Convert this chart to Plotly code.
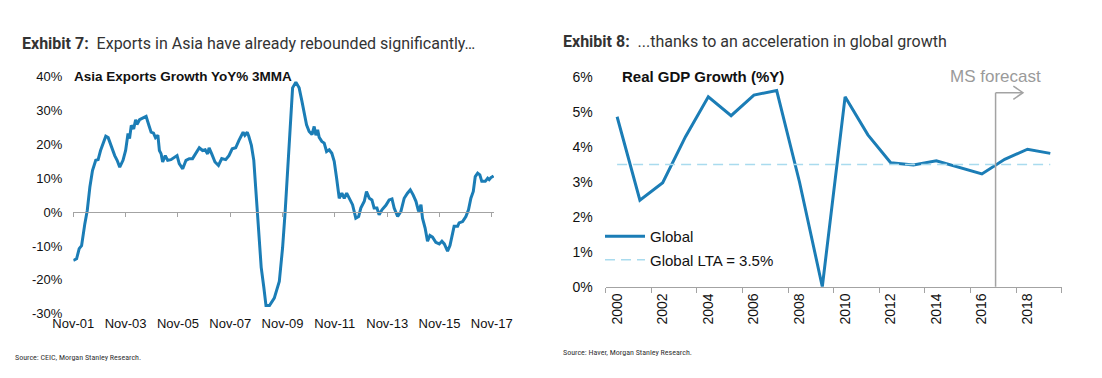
import pandas as pd
import plotly.graph_objects as go

# page body margin offsets the figure by 8px; compensate
OX, OY = 8, 8
W, H = 1102 - OX, 378 - OY

# ---------------- Exhibit 7: Asia exports growth (YoY %, 3MMA) ----------------
asia_start = "2001-11-01"
# months elapsed since Nov-01
asia_months = [
    0, 1.5, 2.7, 3.8, 5.3, 6.4, 7.6, 8.8, 10.3, 11.4, 12.5, 13.7, 14.9, 16.0, 17.5,
    19.0, 20.1, 21.3, 22.8, 24.0, 25.1, 25.8, 26.6, 27.7, 28.6, 29.2, 30.4, 31.9,
    33.4, 34.7, 35.7, 36.8, 37.7, 38.8, 39.5, 40.3, 41.0, 42.2, 43.3, 44.8, 46.4,
    47.6, 48.6, 50.2, 51.7, 53.2, 54.7, 56.2, 57.8, 59.3, 60.5, 61.6, 62.3, 63.5,
    65.0, 66.6, 68.1, 69.9, 71.4, 72.9, 74.5, 76.0, 77.9, 78.7, 79.8, 80.5, 81.7,
    82.8, 83.6, 84.3, 85.1, 86.2, 87.4, 88.4, 90.0, 92.2, 94.5, 96.0, 97.2, 98.3,
    99.4, 100.6, 102.1, 103.6, 104.9, 105.9, 107.0, 108.2, 109.5, 110.5, 111.3,
    112.1, 112.8, 114.0, 115.1, 116.2, 117.4, 118.6, 119.7, 120.8, 122.0, 123.2,
    124.3, 125.4, 126.6, 128.1, 129.6, 130.9, 131.9, 133.5, 134.5, 135.8, 137.0,
    138.0, 139.3, 140.3, 141.6, 143.4, 144.9, 146.2, 147.2, 148.8, 150.3, 151.8,
    153.3, 154.6, 155.9, 157.2, 158.4, 159.5, 160.2, 161.4, 162.5, 163.6, 164.8,
    166.3, 167.9, 169.1, 170.2, 171.7, 172.8, 174.0, 174.7, 176.3, 177.0, 178.6,
    180.1, 181.3, 182.4, 183.5, 184.4, 185.5, 186.5, 187.4, 189.0, 190.1, 190.8,
    191.6, 192.8,
]
asia_growth = [
    -14.3, -13.8, -10.8, -9.9, -3.4, 0.5, 7.4, 12.3, 15.3, 15.5, 18.2, 20.2, 22.4,
    22.0, 19.2, 16.7, 15.3, 13.3, 15.3, 18.2, 23.2, 21.7, 25.6, 24.6, 27.3, 25.9,
    27.3, 27.9, 28.3, 25.6, 23.6, 23.3, 22.0, 22.7, 18.2, 17.2, 14.8, 16.7, 15.3,
    15.5, 16.3, 16.7, 14.3, 12.8, 15.3, 15.8, 15.8, 17.2, 19.0, 18.2, 18.4, 17.2,
    19.0, 17.2, 14.8, 13.8, 15.8, 15.5, 16.7, 18.7, 19.0, 21.2, 23.6, 22.7, 23.6,
    22.4, 19.7, 15.3, 7.4, 0.0, -7.4, -16.3, -22.2, -27.6, -27.6, -25.4, -20.5,
    -10.6, 0.2, 12.0, 26.8, 36.7, 38.4, 36.7, 32.7, 28.8, 25.8, 23.8, 22.9, 25.3,
    22.7, 24.3, 22.1, 20.9, 20.4, 17.9, 18.4, 17.4, 15.0, 10.0, 4.1, 5.6, 4.1, 5.6,
    4.1, 2.2, -1.8, -1.3, 1.2, 3.2, 6.1, 4.1, 3.6, 1.2, 1.2, -0.8, 0.7, 2.0, 3.6,
    3.9, 1.2, -1.3, 0.2, 4.1, 5.6, 6.6, 5.1, 3.2, 0.2, 2.2, -1.8, -4.7, -8.6, -6.9,
    -7.4, -8.9, -9.4, -8.6, -9.4, -11.5, -9.9, -6.2, -4.2, -4.2, -3.2, -2.8, -1.3,
    0.7, 4.1, 6.1, 10.5, 11.5, 11.0, 9.1, 9.1, 10.0, 9.6, 10.2, 10.7,
]
asia_tick_labels = ["Nov-01", "Nov-03", "Nov-05", "Nov-07", "Nov-09",
                    "Nov-11", "Nov-13", "Nov-15", "Nov-17"]
asia_y_ticks = [-30, -20, -10, 0, 10, 20, 30, 40]

# ---------------- Exhibit 8: Real GDP growth ----------------
gdp_years = list(range(2000, 2020))
gdp_growth = [4.87, 2.48, 2.98, 4.3, 5.44, 4.9, 5.49, 5.62, 3.0, 0.0,
              5.44, 4.35, 3.55, 3.49, 3.61, 3.42, 3.23, 3.65, 3.94, 3.82]
gdp_lta = 3.5
forecast_start = 2016.6
gdp_year_labels = [2000, 2002, 2004, 2006, 2008, 2010, 2012, 2014, 2016, 2018]
gdp_y_ticks = [0, 1, 2, 3, 4, 5, 6]

BLUE = "#1b7db6"
LIGHT = "#a9dbee"
GREY = "#a3a3a3"
TXT = "#111111"
AX_FONT = "Liberation Sans, Arial, sans-serif"
HDR_FONT = "Roboto, Arial, sans-serif"
SRC_FONT = "Liberation Sans Narrow, Roboto Condensed, Roboto, sans-serif"


def px_x(p):
    return (p - OX) / W


def px_y(p):
    return 1 - (p - OY) / H


def pct(v):
    return f"{v}%"


start = pd.Timestamp(asia_start)
asia_dates = [start + pd.to_timedelta(m * 30.4375, unit="D") for m in asia_months]
asia_ticks = [start + pd.DateOffset(months=24 * i) for i in range(len(asia_tick_labels))]
asia_range = [start, start + pd.to_timedelta(193 * 30.4375, unit="D")]

left_dom_x = [px_x(73.3), px_x(494)]
left_dom_y = [px_y(313.7), px_y(76.7)]
right_dom_x = [px_x(605.7), px_x(1061.7)]
right_dom_y = [px_y(286.7), px_y(77.3)]

ymin, ymax = asia_y_ticks[0], asia_y_ticks[-1]
zero_pos = left_dom_y[0] + (0 - ymin) / (ymax - ymin) * (left_dom_y[1] - left_dom_y[0])

fig = go.Figure()

# trace that carries the zero-line axis (left chart)
fig.add_trace(go.Scatter(x=asia_dates, y=asia_growth, xaxis="x3", yaxis="y",
                         mode="lines", line=dict(width=0), opacity=0,
                         hoverinfo="skip", showlegend=False))
fig.add_trace(go.Scatter(x=asia_dates, y=asia_growth, xaxis="x", yaxis="y",
                         mode="lines", line=dict(color=BLUE, width=3),
                         showlegend=False, name="Asia exports"))

fig.add_trace(go.Scatter(x=gdp_years, y=gdp_growth, xaxis="x2", yaxis="y2",
                         mode="lines", line=dict(color=BLUE, width=3),
                         name="Global", legendgroup="a", cliponaxis=False))
fig.add_trace(go.Scatter(x=gdp_years, y=[gdp_lta] * len(gdp_years), xaxis="x2", yaxis="y2",
                         mode="lines", line=dict(color=LIGHT, width=1.5, dash="10px,6px"),
                         name="Global LTA = 3.5%", legendgroup="b"))

tick_font = dict(family=AX_FONT, size=13, color=TXT)

fig.update_layout(
    template="none",
    width=W, height=H,
    margin=dict(l=0, r=0, t=0, b=0, pad=0, autoexpand=False),
    paper_bgcolor="white", plot_bgcolor="white",
    xaxis=dict(domain=left_dom_x, anchor="y", type="date", range=asia_range,
               tickmode="array", tickvals=asia_ticks, ticktext=asia_tick_labels,
               ticks="", showline=False, showgrid=False, zeroline=False,
               tickfont=tick_font, automargin=False),
    xaxis3=dict(overlaying="x", anchor="free", position=zero_pos, type="date",
                range=asia_range, tickmode="array", tickvals=asia_ticks,
                showticklabels=False, ticks="outside", ticklen=4, tickwidth=1,
                tickcolor=GREY, showline=True, linecolor=GREY, linewidth=1.2,
                showgrid=False, zeroline=False, automargin=False),
    yaxis=dict(domain=left_dom_y, anchor="x", range=[ymin, ymax],
               tickmode="array", tickvals=asia_y_ticks,
               ticktext=[pct(v) for v in asia_y_ticks],
               ticks="", showline=False, showgrid=False, zeroline=False,
               tickfont=tick_font, ticklabelstandoff=10, automargin=False),
    xaxis2=dict(domain=right_dom_x, anchor="y2", range=[1999.5, 2019.5],
                tickmode="array", tickvals=gdp_year_labels,
                ticktext=[str(v) for v in gdp_year_labels], tickangle=-90,
                ticks="", showline=True, linecolor=GREY, linewidth=1.2,
                showgrid=False, zeroline=False, automargin=False,
                tickfont=dict(family=AX_FONT, size=14, color=TXT),
                minor=dict(tickmode="array",
                           tickvals=[v - 0.5 for v in gdp_year_labels] + [gdp_years[-1] + 0.5],
                           ticks="outside", ticklen=5, tickcolor=GREY, tickwidth=1.2,
                           showgrid=False)),
    yaxis2=dict(domain=right_dom_y, anchor="x2", range=[0, 6],
                tickmode="array", tickvals=gdp_y_ticks,
                ticktext=[pct(v) for v in gdp_y_ticks],
                ticks="", showline=False, showgrid=False, zeroline=False,
                tickfont=dict(family=AX_FONT, size=14, color=TXT),
                ticklabelstandoff=12, automargin=False),
    legend=dict(x=px_x(600), y=px_y(220), xanchor="left", yanchor="top",
                bgcolor="rgba(0,0,0,0)", tracegroupgap=1, borderwidth=0,
                itemwidth=40,
                font=dict(family=AX_FONT, size=15, color=TXT)),
    showlegend=True,
)

# forecast marker
fy = 5.56
fig.add_shape(type="line", xref="x2", yref="y2", x0=forecast_start, x1=forecast_start,
              y0=-0.15, y1=fy, line=dict(color=GREY, width=1.5))
fig.add_shape(type="line", xref="x2", yref="y2", x0=forecast_start, x1=forecast_start + 1.2,
              y0=fy, y1=fy, line=dict(color=GREY, width=1.5))
tip = forecast_start + 1.2
fig.add_shape(type="path", xref="x2", yref="y2",
              path=f"M {tip - 0.42} {fy + 0.19} L {tip} {fy} L {tip - 0.42} {fy - 0.19}",
              line=dict(color=GREY, width=1.5))

annotations = [
    dict(text="<b>Exhibit 7:</b>&nbsp;&nbsp;Exports in Asia have already rebounded significantly…",
         x=px_x(20), y=px_y(43), xanchor="left", yanchor="middle",
         font=dict(family=HDR_FONT, size=16, color="#333333")),
    dict(text="<b>Exhibit 8:</b>&nbsp;&nbsp;...thanks to an acceleration in global growth",
         x=px_x(561), y=px_y(42), xanchor="left", yanchor="middle",
         font=dict(family=HDR_FONT, size=16, color="#333333")),
    dict(text="<b>Asia Exports Growth YoY% 3MMA</b>",
         x=px_x(72), y=px_y(76.5), xanchor="left", yanchor="middle",
         font=dict(family=AX_FONT, size=13.5, color=TXT)),
    dict(text="<b>Real GDP Growth (%Y)</b>",
         x=px_x(620), y=px_y(76.5), xanchor="left", yanchor="middle",
         font=dict(family=AX_FONT, size=15, color=TXT)),
    dict(text="MS forecast", xref="x2", x=forecast_start, y=px_y(76),
         xanchor="center", yanchor="middle",
         font=dict(family=AX_FONT, size=17, color="#9a9a9a")),
    dict(text="Source: CEIC, Morgan Stanley Research.",
         x=px_x(13), y=px_y(357), xanchor="left", yanchor="middle",
         font=dict(family=SRC_FONT, size=8, color="#333333")),
    dict(text="Source: Haver, Morgan Stanley Research.",
         x=px_x(561), y=px_y(352), xanchor="left", yanchor="middle",
         font=dict(family=SRC_FONT, size=8, color="#333333")),
]
for a in annotations:
    a.setdefault("xref", "paper")
    a.setdefault("yref", "paper")
    a["showarrow"] = False
    fig.add_annotation(**a)

fig.write_html("out.html")
